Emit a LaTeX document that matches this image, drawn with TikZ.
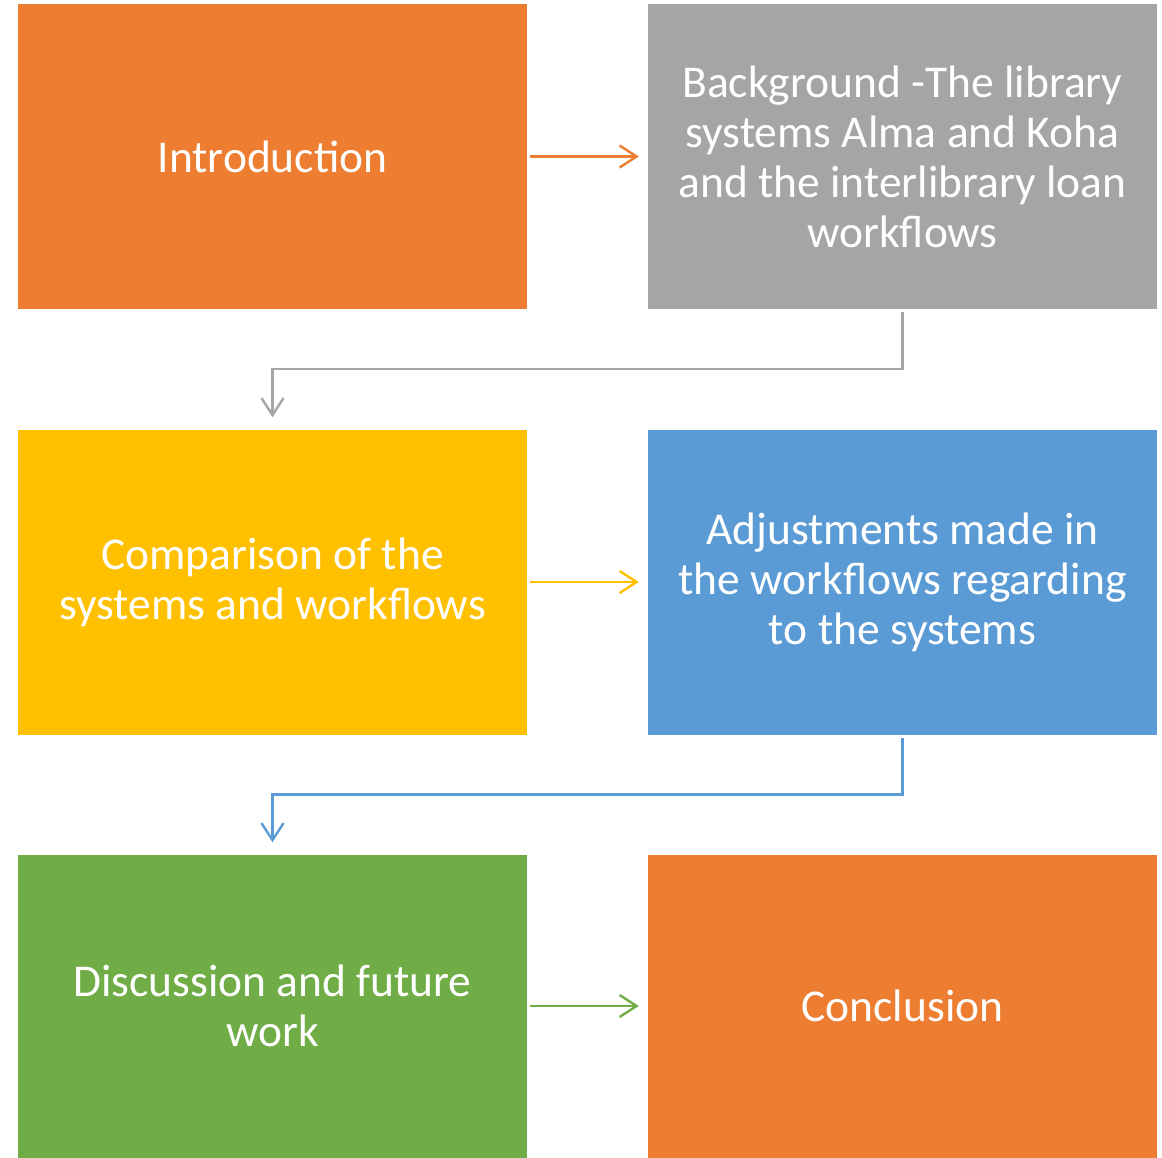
\documentclass[tikz,border=0pt]{standalone}
\usepackage{fontspec}
\setmainfont{Carlito}
\usetikzlibrary{arrows.meta,calc}
\definecolor{cOrange}{HTML}{ED7D31}
\definecolor{cGray}{HTML}{A5A5A5}
\definecolor{cGold}{HTML}{FFC000}
\definecolor{cBlue}{HTML}{5B9BD5}
\definecolor{cGreen}{HTML}{70AD47}
\begin{document}
\begin{tikzpicture}[x=1pt,y=-1pt,
  stepbox/.style={fill=#1, draw=none, text=white, minimum width=509pt,
    minimum height=305pt, align=center, inner sep=0pt,
    font=\fontsize{45.5}{50}\selectfont},
  flow/.style={draw=#1, line width=2.4pt,
    -{Straight Barb[length=17pt,width=22pt,line width=2.4pt]}}]
  \useasboundingbox (0,0) rectangle (1162,1157);

  \node[stepbox=cOrange] (intro) at (272.5,156.5) {Introduction};
  \node[stepbox=cGray]   (bg)    at (902.5,156.5)
    {Background -The library\\systems Alma and Koha\\and the interlibrary loan\\workflows};
  \node[stepbox=cGold]   (cmp)   at (272.5,582) {Comparison of the\\systems and workflows};
  \node[stepbox=cBlue]   (adj)   at (902.5,582)
    {Adjustments made in\\the workflows regarding\\to the systems};
  \node[stepbox=cGreen, minimum height=303pt] (disc) at (272.5,1006) {Discussion and future\\work};
  \node[stepbox=cOrange, minimum height=303pt] (conc) at (902.5,1006) {Conclusion};

  % horizontal links within each row
  \draw[flow=cOrange] ([xshift=3pt]intro.east) -- ([xshift=-9pt]bg.west);
  \draw[flow=cGold]   ([xshift=3pt]cmp.east)   -- ([xshift=-9pt]adj.west);
  \draw[flow=cGreen]  ([xshift=3pt]disc.east)  -- ([xshift=-9pt]conc.west);

  % elbow links down to the next row (yshift acts on the page, so up is positive)
  \coordinate (m1) at ($(bg.south)!0.5!(adj.north)$);
  \draw[flow=cGray] ([yshift=-3pt]bg.south) |- (m1) -| ([yshift=12pt]cmp.north);
  \coordinate (m2) at ($(adj.south)!0.5!(conc.north)$);
  \draw[flow=cBlue] ([yshift=-3pt]adj.south) |- (m2) -| ([yshift=12pt]disc.north);
\end{tikzpicture}
\end{document}
